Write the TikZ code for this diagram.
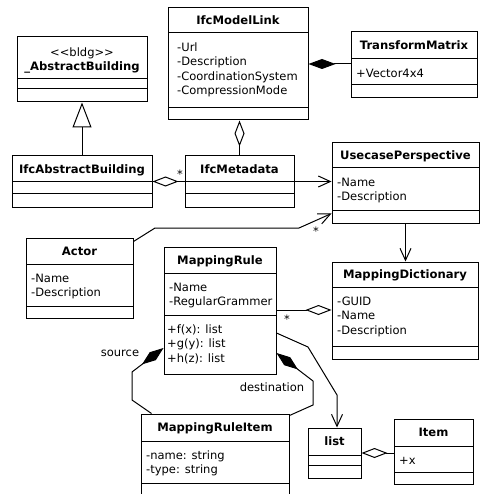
\documentclass[tikz,border=0pt]{standalone}
\usepackage{fontspec}
\setmainfont{DejaVu Sans}
\usetikzlibrary{arrows.meta,fit,calc}

\tikzset{
  classbox/.style={draw, line width=1pt, inner sep=0pt},
  sepline/.style={line width=1pt},
  titletext/.style={anchor=base, inner sep=0pt, font=\fontsize{11.6}{14.5}\selectfont\bfseries},
  attrtext/.style={anchor=north west, inner xsep=5pt, inner ysep=0pt, yshift=-7.9pt, align=left, font=\fontsize{11.5}{14.5}\selectfont},
  conn/.style={line width=1pt},
  multi/.style={inner sep=0pt, font=\fontsize{11.5}{14.5}\selectfont},
  rolelabel/.style={inner sep=0pt, font=\fontsize{11.5}{14.5}\selectfont},
  compstart/.style={{Diamond[length=27pt,width=10pt]}-},
  compend/.style={-{Diamond[length=27pt,width=10pt]}},
  aggrstart/.style={{Diamond[open,length=26pt,width=10pt]}-},
  naviend/.style={-{Straight Barb[length=12pt,width=11pt]}},
  genend/.style={-{Triangle[open,length=25pt,width=19pt]}}
}

% #1 name, #2 x1, #3 y1, #4 x2, #5 y2, #6 sep1, #7 sep2, #8 title, #9 attributes
\newcommand\umlcls[9]{%
  \node[classbox, fit={(#2,#3) (#4,#5)}] (#1) {};
  \draw[sepline] (#2,#6) -- (#4,#6);
  \draw[sepline] (#2,#7) -- (#4,#7);
  \node[titletext] (#1-title) at ({(#2+#4)/2},{(#3+#6)/2+4.4}) {#8};
  \node[attrtext] (#1-attr) at (#2,#6) {\strut #9};
}

\begin{document}
\begin{tikzpicture}[x=1pt,y=-1pt]
\path[use as bounding box, clip] (0,0) rectangle (480,494);
\fill[white] (0,0) rectangle (480,494);

% classes
\node[classbox, fit={(17,37) (147,102)}] (ab) {};
\draw[sepline] (17,79) -- (147,79);
\draw[sepline] (17,89) -- (147,89);
\node[anchor=base, inner sep=0pt, font=\fontsize{11.5}{14.5}\selectfont] (ab-st) at (82,56.5) {<\kern0pt<bldg>\kern0pt>};
\node[titletext] (ab-title) at (82,71) {\_AbstractBuilding};

\umlcls{iml}{168}{8}{308}{120}{33}{108}{IfcModelLink}{}
\node[attrtext, inner xsep=9pt] (iml-attrs) at (168,33) {\strut -Url\\-Description\\-CoordinationSystem\\-CompressionMode};
\umlcls{tm}{351}{32}{477}{98}{59}{85}{TransformMatrix}{+Vector4x4}
\umlcls{iab}{12}{156}{152}{207}{182}{193}{IfcAbstractBuilding}{}
\umlcls{imd}{185}{156}{294}{207}{182}{193}{IfcMetadata}{}
\umlcls{up}{332}{143}{479}{223}{168}{210}{UsecasePerspective}{-Name\\-Description}
\umlcls{act}{26}{238}{133}{318}{264}{306}{Actor}{-Name\\-Description}
\umlcls{mr}{164}{247}{276}{374}{273}{315}{MappingRule}{-Name\\-RegularGrammer}
\node[attrtext, inner xsep=3pt] (mr-ops) at (164,315) {\strut +f(x): list\\+g(y): list\\+h(z): list};
\umlcls{md}{332}{262}{478}{359}{287}{346}{MappingDictionary}{-GUID\\-Name\\-Description}
\umlcls{lst}{308}{428}{361}{478}{455}{465}{list}{}
\umlcls{itm}{394}{419}{473}{484}{446}{472}{Item}{+x}
\umlcls{mri}{141}{414}{289}{497}{441}{483}{MappingRuleItem}{-name: string\\-type: string}

% connectors
\draw[conn, genend] (iab.north) -- (iab.north |- ab.south);
\draw[conn, compstart] (iml.east) -- (iml.east -| tm.west);
\draw[conn, aggrstart] (imd.north |- iml.south) -- (imd.north);
\draw[conn, aggrstart] (iab.east) -- (imd.west);
\node[multi] (s1) at (180,174) {*};
\draw[conn, naviend] (imd.east) -- (imd.east -| up.west);
\coordinate (a1) at (155,228);
\coordinate (a2) at (299,228);
\draw[conn, naviend] ($(act.north east)+(0,4)$) -- (a1) -- (a2) -- ($(up.south west)+(0,-10)$);
\node[multi] (s2) at (316,231) {*};
\draw[conn, naviend] (up.south) -- (up.south |- md.north);
\draw[conn, aggrstart] (md.west |- 0,310) -- (mr.east |- 0,310);
\node[multi] (s3) at (287,319) {*};
\coordinate (l1) at (308,347);
\coordinate (l2) at (337,395);
\draw[conn, naviend] (mr.east |- 0,333) -- (l1) -- (l2) -- (337,0 |- lst.north);
\draw[conn, aggrstart] (lst.east) -- (lst.east -| itm.west);
\coordinate (r1) at (132,400);
\coordinate (r2) at (132,372);
\draw[conn, compend] ($(mri.north west)+(11,0)$) -- (r1) -- (r2) -- (mr.west |- 0,348);
\node[rolelabel] (src) at (120,353) {source};
\coordinate (d1) at (313,405);
\coordinate (d2) at (313,381);
\draw[conn, compend] ($(mri.north east)+(0,2)$) -- (d1) -- (d2) -- (mr.east |- 0,353);
\node[rolelabel] (dst) at (272,387) {destination};
\end{tikzpicture}
\end{document}
